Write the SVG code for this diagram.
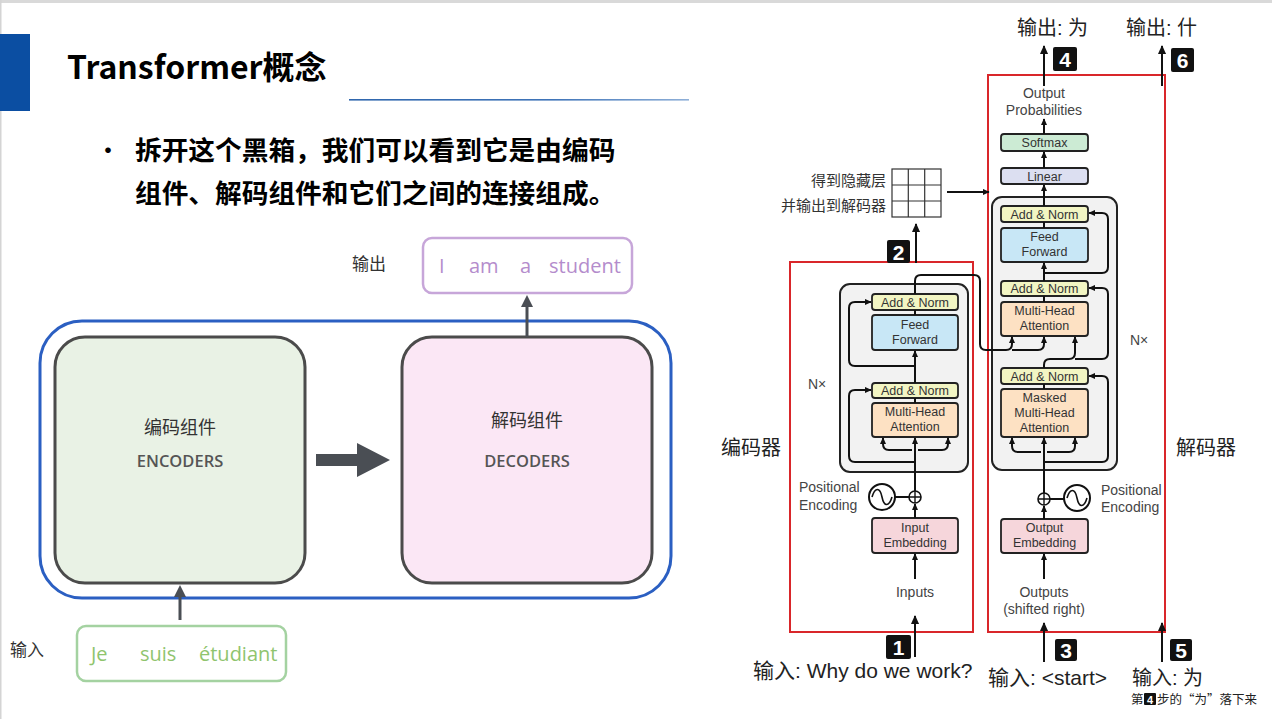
<svg xmlns="http://www.w3.org/2000/svg" width="1272" height="719" viewBox="0 0 1272 719">
  <defs>
    <linearGradient id="rule" x1="0" x2="1" y1="0" y2="0">
      <stop offset="0" stop-color="#2f66ad"/>
      <stop offset="0.6" stop-color="#3f74b8"/>
      <stop offset="1" stop-color="#8fb0d8"/>
    </linearGradient>
    <marker id="ah" viewBox="0 0 10 10" refX="9" refY="5" markerUnits="userSpaceOnUse" markerWidth="7" markerHeight="7" orient="auto">
      <path d="M0,0.5 L10,5 L0,9.5 Z" fill="#111"/>
    </marker>
    <marker id="ahBig" viewBox="0 0 10 10" refX="9" refY="5" markerUnits="userSpaceOnUse" markerWidth="10" markerHeight="9" orient="auto">
      <path d="M0,0.5 L10,5 L0,9.5 Z" fill="#111"/>
    </marker>
  </defs>
  <style>
    .cn { font-family: "Noto Sans CJK SC", "Noto Sans", sans-serif; }
    .lab { font-family: "Liberation Sans", "Noto Sans CJK SC", sans-serif; }
    .os { font-family: "Open Sans", "Noto Sans", sans-serif; }
    .blk { stroke: #222; stroke-width: 1.8; }
    .bt { font-family: "Liberation Sans", sans-serif; font-size: 12.5px; fill: #333; text-anchor: middle; }
    .gl { font-family: "Liberation Sans", sans-serif; font-size: 14px; fill: #444; }
    .wire { fill: none; stroke: #111; stroke-width: 2; }
    .wa { fill: none; stroke: #111; stroke-width: 2; marker-end: url(#ah); }
    .wb { fill: none; stroke: #111; stroke-width: 2; marker-end: url(#ahBig); }
    .num { fill: #111; }
    .numt { font-family: "Liberation Sans", sans-serif; font-weight: bold; font-size: 21px; fill: #fff; text-anchor: middle; }
    .addn { fill: #f2f5c3; }
    .ff { fill: #c8e7f6; }
    .mha { fill: #fde1c3; }
    .emb { fill: #f6d6db; }
    .redbox { fill: none; stroke: #d9262a; stroke-width: 2; }
  </style>

  <!-- page frame -->
  <rect x="0" y="0" width="1272" height="719" fill="#fff"/>
  <rect x="0" y="0" width="1272" height="3" fill="#d9d9d9"/>
  <rect x="0" y="0" width="1.5" height="719" fill="#d4d4d4"/>

  <!-- heading -->
  <g id="heading">
    <rect x="0" y="34" width="30" height="77" fill="#0b4ea2"/>
    <text x="67" y="79" class="cn" font-size="32" font-weight="bold" fill="#000">Transformer概念</text>
    <rect x="349" y="99" width="340" height="1.6" fill="url(#rule)"/>
  </g>

  <g id="bullet">
    <text x="97" y="158" class="cn" font-size="22" font-weight="bold" fill="#000">•</text>
    <text x="135" y="160" class="cn" font-size="26.7" font-weight="bold" fill="#000">拆开这个黑箱，我们可以看到它是由编码</text>
    <text x="135" y="203" class="cn" font-size="26.7" font-weight="bold" fill="#000">组件、解码组件和它们之间的连接组成。</text>
  </g>

  <!-- ===== overview: encoders → decoders ===== -->
  <g id="transformer-frame">
    <rect x="40" y="321" width="631" height="277" rx="42" fill="none" stroke="#2b5fc2" stroke-width="3"/>
  </g>
  <g id="encoders">
    <rect x="55" y="337" width="250" height="246" rx="30" fill="#e9f2e5" stroke="#4b4b4b" stroke-width="3"/>
    <text x="180" y="434" class="cn" font-size="18" fill="#333" text-anchor="middle">编码组件</text>
    <text x="180" y="467" class="os" font-size="16.5" font-weight="600" fill="#555" text-anchor="middle">ENCODERS</text>
  </g>
  <g id="decoders">
    <rect x="402" y="337" width="250" height="246" rx="30" fill="#fbe7f5" stroke="#4b4b4b" stroke-width="3"/>
    <text x="527" y="427" class="cn" font-size="18" fill="#333" text-anchor="middle">解码组件</text>
    <text x="527" y="467" class="os" font-size="16.5" font-weight="600" fill="#555" text-anchor="middle">DECODERS</text>
  </g>
  <g id="output-sentence">
    <rect x="423" y="238" width="209" height="55" rx="9" fill="#fff" stroke="#c7a6d9" stroke-width="2.5"/>
    <text y="273" class="os" font-size="20" fill="#b48ccc"><tspan x="439">I</tspan><tspan x="469">am</tspan><tspan x="520">a</tspan><tspan x="549">student</tspan></text>
    <text x="352" y="270" class="cn" font-size="17" fill="#333">输出</text>
  </g>
  <g id="input-sentence">
    <rect x="77" y="626" width="209" height="55" rx="9" fill="#fff" stroke="#a4d2a1" stroke-width="2.5"/>
    <text y="661" class="os" font-size="20" fill="#8fc46e"><tspan x="91">Je</tspan><tspan x="140">suis</tspan><tspan x="199">étudiant</tspan></text>
    <text x="10" y="656" class="cn" font-size="17" fill="#333">输入</text>
  </g>
  <g id="overview-connectors">
    <path d="M316,454 H357 V443 L390,460 L357,477 V466 H316 Z" fill="#4a4e54"/>
    <line x1="527" y1="337" x2="527" y2="304" stroke="#4a4e54" stroke-width="3"/>
    <path d="M521,307 L527,295 L533,307 Z" fill="#4a4e54"/>
    <line x1="180" y1="620" x2="180" y2="595" stroke="#4a4e54" stroke-width="3"/>
    <path d="M174,597 L180,585 L186,597 Z" fill="#4a4e54"/>
  </g>

  <!-- ===== detailed architecture ===== -->
  <g id="encoder-region">
    <rect x="790" y="262" width="183" height="370" class="redbox"/>
    <text x="721" y="455" class="cn" font-size="20" fill="#222">编码器</text>
  </g>
  <g id="decoder-region">
    <rect x="988" y="75" width="177" height="557" class="redbox"/>
    <text x="1176" y="455" class="cn" font-size="20" fill="#222">解码器</text>
  </g>

  <g id="encoder-stack">
    <rect x="840" y="284" width="128" height="188" rx="10" fill="#f2f2f2" stroke="#222" stroke-width="2"/>
    <text x="808" y="389" class="gl">N×</text>
  </g>
  <g id="enc-addnorm-2">
    <rect x="872" y="294" width="86" height="16" rx="3" class="blk addn"/>
    <text x="915" y="306.5" class="bt">Add &amp; Norm</text>
  </g>
  <g id="enc-feedforward">
    <rect x="872" y="315" width="86" height="35" rx="3" class="blk ff"/>
    <text x="915" y="328.5" class="bt">Feed</text>
    <text x="915" y="343.5" class="bt">Forward</text>
  </g>
  <g id="enc-addnorm-1">
    <rect x="872" y="383" width="86" height="15" rx="3" class="blk addn"/>
    <text x="915" y="395" class="bt">Add &amp; Norm</text>
  </g>
  <g id="enc-attention">
    <rect x="872" y="403" width="86" height="34" rx="3" class="blk mha"/>
    <text x="915" y="416" class="bt">Multi-Head</text>
    <text x="915" y="431" class="bt">Attention</text>
  </g>
  <g id="enc-positional">
    <circle cx="882" cy="497" r="13" fill="#fff" stroke="#111" stroke-width="2"/>
    <path d="M872,497 C875,487 880,487 882,497 S889,507 892,497" fill="none" stroke="#111" stroke-width="1.6"/>
    <circle cx="915" cy="497" r="6" fill="#fff" stroke="#111" stroke-width="1.6"/>
    <path d="M909,497 H921 M915,491 V503" stroke="#111" stroke-width="1.4"/>
    <text x="799" y="492" class="gl">Positional</text>
    <text x="799" y="510" class="gl">Encoding</text>
  </g>
  <g id="enc-embedding">
    <rect x="872" y="518" width="86" height="35" rx="3" class="blk emb"/>
    <text x="915" y="531.5" class="bt">Input</text>
    <text x="915" y="546.5" class="bt">Embedding</text>
  </g>
  <g id="enc-inputs">
    <text x="915" y="597" class="gl" text-anchor="middle">Inputs</text>
  </g>

  <g id="decoder-stack">
    <rect x="992" y="197" width="125" height="273" rx="10" fill="#f2f2f2" stroke="#222" stroke-width="2"/>
    <text x="1130" y="345" class="gl">N×</text>
  </g>
  <g id="dec-probabilities">
    <text x="1044" y="98" class="gl" text-anchor="middle">Output</text>
    <text x="1044" y="115" class="gl" text-anchor="middle">Probabilities</text>
  </g>
  <g id="dec-softmax">
    <rect x="1001" y="134" width="87" height="17" rx="3" class="blk" fill="#ccebd4"/>
    <text x="1044.5" y="147" class="bt">Softmax</text>
  </g>
  <g id="dec-linear">
    <rect x="1001" y="168" width="87" height="16" rx="3" class="blk" fill="#dcdff1"/>
    <text x="1044.5" y="180.5" class="bt">Linear</text>
  </g>
  <g id="dec-addnorm-3">
    <rect x="1001" y="206" width="87" height="16" rx="3" class="blk addn"/>
    <text x="1044.5" y="218.5" class="bt">Add &amp; Norm</text>
  </g>
  <g id="dec-feedforward">
    <rect x="1001" y="228" width="87" height="34" rx="3" class="blk ff"/>
    <text x="1044.5" y="241" class="bt">Feed</text>
    <text x="1044.5" y="256" class="bt">Forward</text>
  </g>
  <g id="dec-addnorm-2">
    <rect x="1001" y="281" width="87" height="15" rx="3" class="blk addn"/>
    <text x="1044.5" y="293" class="bt">Add &amp; Norm</text>
  </g>
  <g id="dec-cross-attention">
    <rect x="1001" y="302" width="87" height="34" rx="3" class="blk mha"/>
    <text x="1044.5" y="315" class="bt">Multi-Head</text>
    <text x="1044.5" y="330" class="bt">Attention</text>
  </g>
  <g id="dec-addnorm-1">
    <rect x="1001" y="368" width="87" height="16" rx="3" class="blk addn"/>
    <text x="1044.5" y="380.5" class="bt">Add &amp; Norm</text>
  </g>
  <g id="dec-masked-attention">
    <rect x="1001" y="389" width="87" height="48" rx="3" class="blk mha"/>
    <text x="1044.5" y="402" class="bt">Masked</text>
    <text x="1044.5" y="417" class="bt">Multi-Head</text>
    <text x="1044.5" y="432" class="bt">Attention</text>
  </g>
  <g id="dec-positional">
    <circle cx="1077" cy="498" r="13" fill="#fff" stroke="#111" stroke-width="2"/>
    <path d="M1067,498 C1070,488 1075,488 1077,498 S1084,508 1087,498" fill="none" stroke="#111" stroke-width="1.6"/>
    <circle cx="1044" cy="499" r="6" fill="#fff" stroke="#111" stroke-width="1.6"/>
    <path d="M1038,499 H1050 M1044,493 V505" stroke="#111" stroke-width="1.4"/>
    <text x="1101" y="495" class="gl">Positional</text>
    <text x="1101" y="512" class="gl">Encoding</text>
  </g>
  <g id="dec-embedding">
    <rect x="1001" y="519" width="87" height="34" rx="3" class="blk emb"/>
    <text x="1044.5" y="532" class="bt">Output</text>
    <text x="1044.5" y="547" class="bt">Embedding</text>
  </g>
  <g id="dec-outputs">
    <text x="1044" y="597" class="gl" text-anchor="middle">Outputs</text>
    <text x="1044" y="614" class="gl" text-anchor="middle">(shifted right)</text>
  </g>

  <g id="hidden-state">
    <rect x="892" y="169" width="49" height="48" fill="#fff" stroke="#333" stroke-width="1.2"/>
    <path d="M908.3,169 V217 M924.7,169 V217 M892,185 H941 M892,201 H941" stroke="#333" stroke-width="1.2"/>
    <text x="886" y="186" class="cn" font-size="15" fill="#333" text-anchor="end">得到隐藏层</text>
    <text x="886" y="211" class="cn" font-size="15" fill="#333" text-anchor="end">并输出到解码器</text>
  </g>

  <!-- step labels -->
  <g id="step-1">
    <rect x="886" y="635" width="25" height="24" rx="2" class="num"/>
    <text x="898.5" y="655" class="numt">1</text>
    <text x="753" y="678" class="lab" font-size="21" fill="#222">输入: Why do we work?</text>
  </g>
  <g id="step-2">
    <rect x="887" y="240" width="23" height="23" rx="2" class="num"/>
    <text x="898.5" y="259.5" class="numt">2</text>
  </g>
  <g id="step-3">
    <rect x="1055" y="639" width="22" height="22" rx="2" class="num"/>
    <text x="1066" y="658" class="numt">3</text>
    <text x="988" y="685" class="lab" font-size="21" fill="#222">输入: &lt;start&gt;</text>
  </g>
  <g id="step-4">
    <rect x="1053" y="47" width="24" height="24" rx="2" class="num"/>
    <text x="1065" y="67" class="numt">4</text>
    <text x="1017" y="35" class="lab" font-size="20" fill="#222">输出: 为</text>
  </g>
  <g id="step-5">
    <rect x="1170" y="639" width="22" height="22" rx="2" class="num"/>
    <text x="1181" y="658" class="numt">5</text>
    <text x="1132" y="685" class="lab" font-size="20" fill="#222">输入: 为</text>
    <text x="1131" y="704" class="cn" font-size="12.5" fill="#222">第</text>
    <rect x="1144" y="693" width="12" height="12" rx="1" class="num"/>
    <text x="1150" y="703.5" font-family="Liberation Sans, sans-serif" font-weight="bold" font-size="11" fill="#fff" text-anchor="middle">4</text>
    <text x="1157" y="704" class="cn" font-size="12.5" fill="#222">步的“为”落下来</text>
  </g>
  <g id="step-6">
    <rect x="1171" y="48" width="23" height="24" rx="2" class="num"/>
    <text x="1182.5" y="68" class="numt">6</text>
    <text x="1126" y="35" class="lab" font-size="20" fill="#222">输出: 什</text>
  </g>

  <g id="connectors">
    <!-- encoder -->
    <path d="M915,657 V616" class="wb"/>
    <path d="M915,579 V554" class="wa"/>
    <path d="M915,518 V504" class="wa"/>
    <path d="M895,497 H909" class="wire"/>
    <path d="M915,491 V438" class="wa"/>
    <path d="M912,450 H889 Q883,450 883,444 V438" class="wa"/>
    <path d="M918,450 H942 Q948,450 948,444 V438" class="wa"/>
    <path d="M915,462 H855 Q849,462 849,456 V396 Q849,390 855,390 H871" class="wa"/>
    <path d="M915,403 V398" class="wire"/>
    <path d="M915,383 V351" class="wa"/>
    <path d="M915,366 H855 Q849,366 849,360 V308 Q849,302 855,302 H871" class="wa"/>
    <path d="M915,315 V310" class="wire"/>
    <!-- encoder output into decoder cross-attention -->
    <path d="M915,294 V281 Q915,275 921,275 H974 Q980,275 980,281 V344 Q980,350 986,350 H1006 Q1012,350 1012,344 V337" class="wa"/>
    <path d="M1012,350 H1038 Q1044,350 1044,344 V337" class="wa"/>
    <path d="M916,263 V224" class="wb"/>
    <path d="M947,192 H989" class="wa"/>
    <!-- decoder -->
    <path d="M1044,662 V623" class="wb"/>
    <path d="M1162,662 V623" class="wb"/>
    <path d="M1044,579 V554" class="wa"/>
    <path d="M1044,519 V506" class="wa"/>
    <path d="M1050,499 H1064" class="wire"/>
    <path d="M1044,493 V438" class="wa"/>
    <path d="M1041,452 H1018 Q1012,452 1012,446 V438" class="wa"/>
    <path d="M1047,452 H1069 Q1075,452 1075,446 V438" class="wa"/>
    <path d="M1044,462 H1102 Q1108,462 1108,456 V382 Q1108,376 1102,376 H1089" class="wa"/>
    <path d="M1044,389 V384" class="wire"/>
    <path d="M1044,368 V365 Q1044,359 1050,359 H1069 Q1075,359 1075,353 V337" class="wa"/>
    <path d="M1075,359 H1102 Q1108,359 1108,353 V294 Q1108,288 1102,288 H1089" class="wa"/>
    <path d="M1044,302 V296" class="wire"/>
    <path d="M1044,281 V263" class="wa"/>
    <path d="M1044,273 H1102 Q1108,273 1108,267 V219 Q1108,213 1102,213 H1089" class="wa"/>
    <path d="M1044,228 V222" class="wire"/>
    <path d="M1044,206 V185" class="wa"/>
    <path d="M1044,168 V152" class="wa"/>
    <path d="M1044,134 V119" class="wa"/>
    <path d="M1044,86 V46" class="wb"/>
    <path d="M1162,86 V46" class="wb"/>
  </g>
</svg>
